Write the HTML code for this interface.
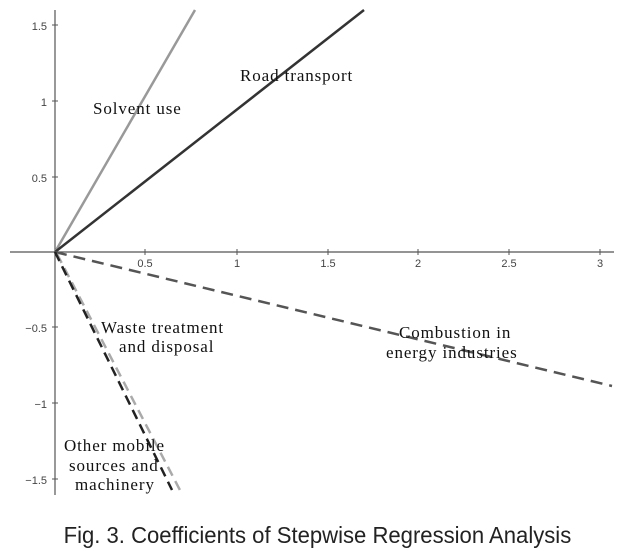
<!DOCTYPE html>
<html><head><style>
body{margin:0;background:#fff;width:635px;height:551px;overflow:hidden}
svg{position:absolute;left:0;top:0}
.t{font-family:"Liberation Sans",sans-serif;font-size:11px;fill:#444}
.l{font-family:"Liberation Serif",serif;font-size:17px;letter-spacing:0.9px;fill:#111}
.cap{position:absolute;left:0;top:522px;width:635px;text-align:center;font-family:"Liberation Sans",sans-serif;font-size:23px;color:#222}
.cap span{display:inline-block;transform:scaleX(0.96)}
</style></head><body>
<svg width="635" height="551">
<line x1="10" y1="252" x2="614" y2="252" stroke="#555" stroke-width="1.2"/>
<line x1="55" y1="10" x2="55" y2="495" stroke="#555" stroke-width="1.2"/>
<g stroke="#555"><line x1="145" y1="249" x2="145" y2="255"/><line x1="237" y1="249" x2="237" y2="255"/><line x1="328" y1="249" x2="328" y2="255"/><line x1="418" y1="249" x2="418" y2="255"/><line x1="509" y1="249" x2="509" y2="255"/><line x1="600" y1="249" x2="600" y2="255"/>
<line x1="52" y1="25" x2="58" y2="25"/><line x1="52" y1="101" x2="58" y2="101"/><line x1="52" y1="177" x2="58" y2="177"/><line x1="52" y1="327" x2="58" y2="327"/><line x1="52" y1="403" x2="58" y2="403"/><line x1="52" y1="479" x2="58" y2="479"/></g>
<g class="t" text-anchor="middle"><text x="145" y="267">0.5</text><text x="237" y="267">1</text><text x="328" y="267">1.5</text><text x="418" y="267">2</text><text x="509" y="267">2.5</text><text x="600" y="267">3</text></g>
<g class="t" text-anchor="end"><text x="47" y="30">1.5</text><text x="47" y="106">1</text><text x="47" y="182">0.5</text><text x="47" y="332">−0.5</text><text x="47" y="408">−1</text><text x="47" y="484">−1.5</text></g>
<line x1="55" y1="252" x2="195" y2="10" stroke="#999" stroke-width="2.5"/>
<line x1="55" y1="252" x2="364" y2="10" stroke="#333" stroke-width="2.5"/>
<line x1="55" y1="252" x2="612" y2="386" stroke="#555" stroke-width="2.5" stroke-dasharray="12,7"/>
<line x1="57" y1="254" x2="182" y2="494" stroke="#aaa" stroke-width="2.5" stroke-dasharray="10,6"/>
<line x1="55" y1="252" x2="172" y2="490" stroke="#222" stroke-width="2.5" stroke-dasharray="10,6"/>
<g class="l"><text x="93" y="114">Solvent use</text><text x="240" y="81">Road transport</text>
<text x="101" y="333">Waste treatment</text><text x="119" y="352">and disposal</text>
<text x="399" y="338">Combustion in</text><text x="386" y="358">energy industries</text>
<text x="64" y="451">Other mobile</text><text x="69" y="471">sources and</text><text x="75" y="490">machinery</text></g>
</svg>
<div class="cap"><span>Fig. 3. Coefficients of Stepwise Regression Analysis</span></div>
</body></html>
